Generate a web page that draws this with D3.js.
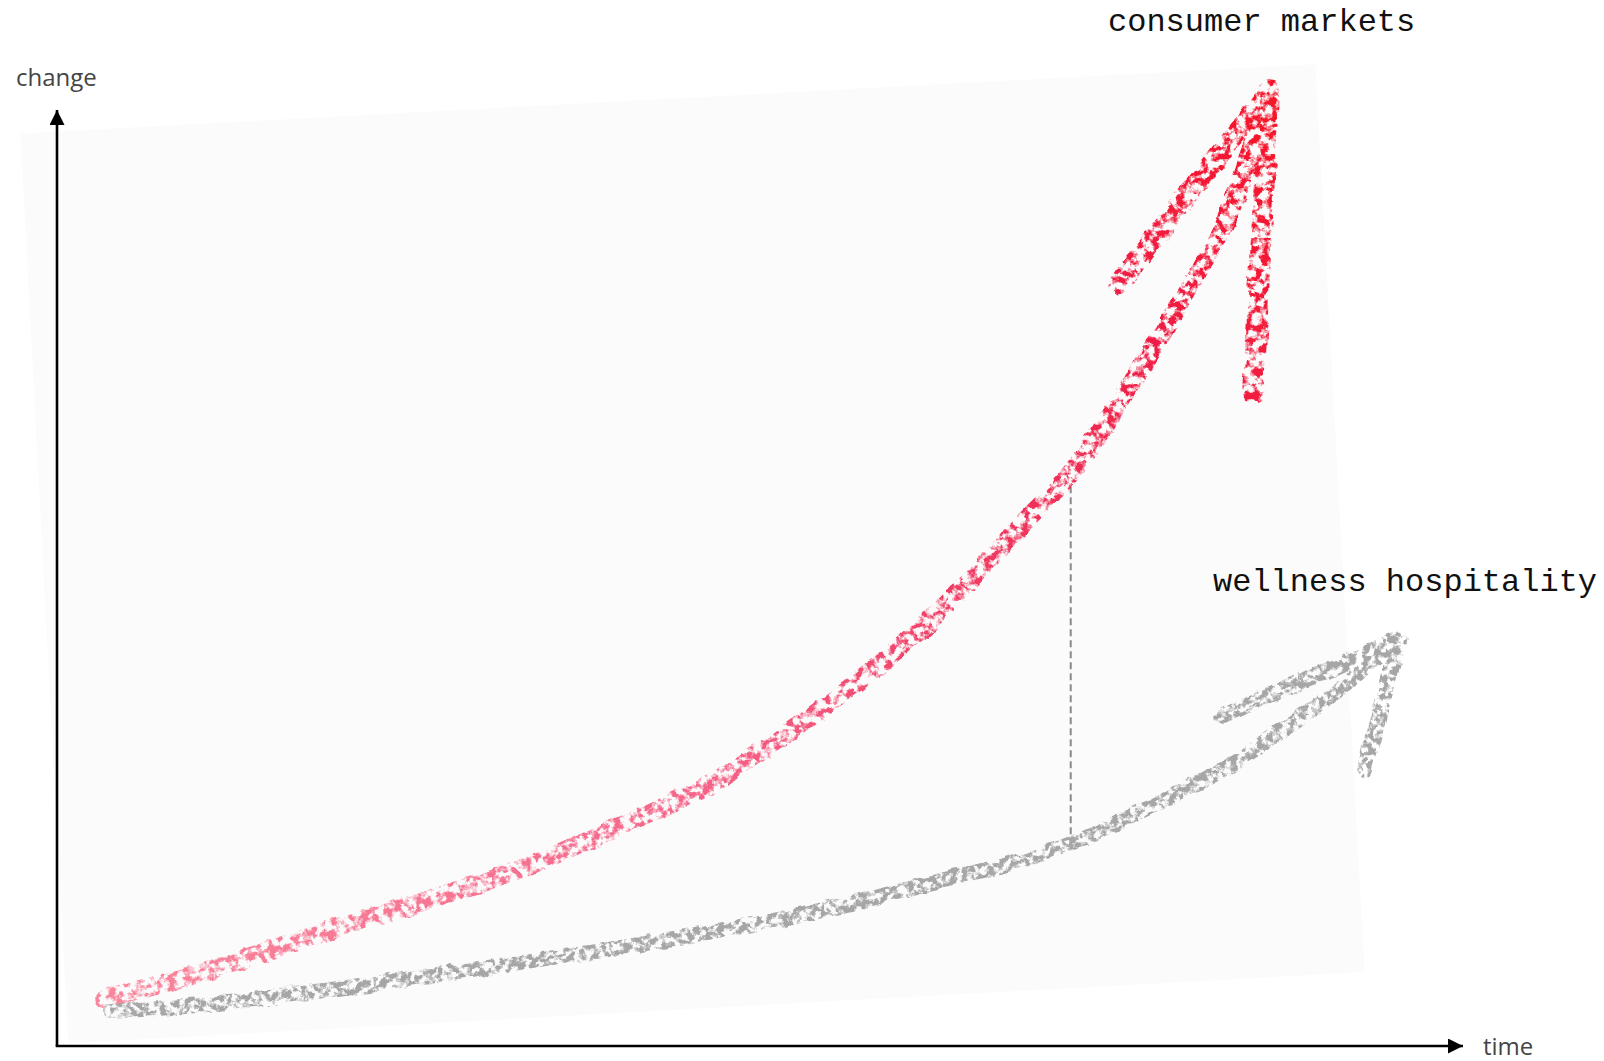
<!DOCTYPE html>
<html>
<head>
<meta charset="utf-8">
<script src="https://cdn.jsdelivr.net/npm/d3@7/dist/d3.min.js"></script>
<style>
  html, body { margin: 0; padding: 0; background: #ffffff; }
  svg { display: block; }
</style>
</head>
<body>
<svg id="chart" width="1604" height="1061"></svg>
<script>
// ---------- data (arbitrary units 0..100) ----------
const seriesNames = ["consumer markets", "wellness hospitality"];
const axisLabels = ["change", "time"];

// consumer markets (red crayon arrow)
const consumerX = [3.4, 10.5, 17.8, 25.0, 32.4, 39.6, 46.9, 54.2, 61.5, 68.8, 72.1, 76.0, 79.7, 83.3, 86.2];
const consumerY = [5.1, 7.9, 11.6, 15.0, 18.6, 23.2, 28.4, 35.8, 44.6, 56.0, 61.2, 69.7, 79.0, 88.8, 101.9];
const consumerHeadX = [75.5, 86.2, 85.1];   // left barb end, tip, right barb end
const consumerHeadY = [81.3, 102.1, 69.7];

// wellness hospitality (grey crayon arrow)
const wellnessX = [3.8, 10.5, 17.8, 25.0, 32.4, 39.6, 46.9, 54.2, 61.5, 68.8, 72.1, 76.0, 79.7, 83.3, 86.9, 90.6, 95.3];
const wellnessY = [3.7, 4.4, 5.7, 7.2, 8.8, 10.4, 12.3, 14.4, 17.2, 19.9, 21.6, 24.3, 27.0, 29.9, 33.5, 37.4, 43.4];
const wellnessHeadX = [82.9, 95.4, 93.0];
const wellnessHeadY = [35.3, 43.4, 29.5];

// gap marker between the two curves
const gapX = [72.1];
const gapTop = [59.8];
const gapBottom = [21.3];

// background sheet corners (paper photographed at a slight angle)
const sheetX = [-2.6, 89.5, 93.0, 0.8];
const sheetY = [97.5, 104.9, 7.9, 0.3];

// ---------- layout ----------
const svg = d3.select("#chart");
const origin = { x: 57, y: 1046 };
const x = d3.scaleLinear().domain([0, 100]).range([origin.x, 1463]);
const y = d3.scaleLinear().domain([0, 100]).range([origin.y, 110]);

const defs = svg.append("defs");

// crayon texture filter
const makeFilter = (id, freq, seed, a, b) => {
  const f = defs.append("filter").attr("id", id)
    .attr("x", "-5%").attr("y", "-5%").attr("width", "110%").attr("height", "110%");
  f.append("feTurbulence").attr("type", "fractalNoise").attr("baseFrequency", freq)
    .attr("numOctaves", 3).attr("seed", seed).attr("result", "noise");
  f.append("feColorMatrix").attr("in", "noise").attr("type", "matrix")
    .attr("values", `0 0 0 0 0  0 0 0 0 0  0 0 0 0 0  ${a} 0 0 0 ${b}`).attr("result", "mask");
  f.append("feComposite").attr("in", "SourceGraphic").attr("in2", "mask")
    .attr("operator", "in").attr("result", "tex");
  f.append("feTurbulence").attr("type", "fractalNoise").attr("baseFrequency", "0.05")
    .attr("numOctaves", 2).attr("seed", seed + 5).attr("result", "warp");
  f.append("feDisplacementMap").attr("in", "tex").attr("in2", "warp")
    .attr("scale", 8).attr("xChannelSelector", "R").attr("yChannelSelector", "G");
};
makeFilter("crayonRed", "0.13", 7, 5.5, -2.35);
makeFilter("crayonGrey", "0.16", 11, 5.5, -2.2);

// red gradient along the rising curve
const g = defs.append("linearGradient").attr("id", "redGrad")
  .attr("gradientUnits", "userSpaceOnUse")
  .attr("x1", x(3)).attr("y1", y(5)).attr("x2", x(86)).attr("y2", y(100));
[[0, "#f9869c"], [0.4, "#f5668a"], [0.65, "#f03a62"], [0.85, "#f01e45"], [1, "#f6142a"]].forEach(([o, c]) =>
  g.append("stop").attr("offset", o).attr("stop-color", c));

// background sheet
svg.append("polygon")
  .attr("points", sheetX.map((d, i) => [x(d), y(sheetY[i])].join(",")).join(" "))
  .attr("fill", "#fbfbfb");

// arrow markers for axes
defs.append("marker").attr("id", "axArrow").attr("viewBox", "0 0 10 10")
  .attr("refX", 10).attr("refY", 5).attr("markerUnits", "userSpaceOnUse")
  .attr("markerWidth", 17).attr("markerHeight", 15).attr("orient", "auto")
  .append("path").attr("d", "M0,0 L10,5 L0,10 Z").attr("fill", "#000");

// axes
svg.append("line")
  .attr("x1", x(0)).attr("y1", y(0)).attr("x2", x(0)).attr("y2", y(100))
  .attr("stroke", "#000").attr("stroke-width", 2.6).attr("marker-end", "url(#axArrow)");
svg.append("line")
  .attr("x1", x(0) - 1.3).attr("y1", y(0)).attr("x2", x(100)).attr("y2", y(0))
  .attr("stroke", "#000").attr("stroke-width", 2.6).attr("marker-end", "url(#axArrow)");

svg.append("text").text(axisLabels[0])
  .attr("x", 16).attr("y", 86)
  .attr("font-family", "'Open Sans', sans-serif").attr("font-size", 24).attr("fill", "#454545");
svg.append("text").text(axisLabels[1])
  .attr("x", x(100) + 20).attr("y", y(0) + 9)
  .attr("font-family", "'Open Sans', sans-serif").attr("font-size", 24).attr("fill", "#454545");

// curves
const line = d3.line().x(d => x(d[0])).y(d => y(d[1])).curve(d3.curveCatmullRom.alpha(0.5));
const straight = d3.line().x(d => x(d[0])).y(d => y(d[1]));

const consumerPts = consumerX.map((v, i) => [v, consumerY[i]]);
const wellnessPts = wellnessX.map((v, i) => [v, wellnessY[i]]);
const cHead = consumerHeadX.map((v, i) => [v, consumerHeadY[i]]);
const wHead = wellnessHeadX.map((v, i) => [v, wellnessHeadY[i]]);

// dashed gap line
svg.append("line")
  .attr("x1", x(gapX[0])).attr("x2", x(gapX[0]))
  .attr("y1", y(gapTop[0])).attr("y2", y(gapBottom[0]))
  .attr("stroke", "#8a8a8a").attr("stroke-width", 2).attr("stroke-dasharray", "7,4");

const drawCrayon = (pts, head, color, w, filt) => {
  const grp = svg.append("g").attr("filter", `url(#${filt})`);
  grp.append("path").attr("d", line(pts)).attr("fill", "none")
    .attr("stroke", color).attr("stroke-width", w)
    .attr("stroke-linecap", "round").attr("stroke-linejoin", "round");
  grp.append("path").attr("d", straight(head)).attr("fill", "none")
    .attr("stroke", color).attr("stroke-width", w * 1.1)
    .attr("stroke-linecap", "round").attr("stroke-linejoin", "round");
};

drawCrayon(wellnessPts, wHead, "#a6a6a6", 15, "crayonGrey");
drawCrayon(consumerPts, cHead, "url(#redGrad)", 19, "crayonRed");

// series labels
svg.append("text").text(seriesNames[0])
  .attr("x", 1108).attr("y", 31)
  .attr("font-family", "'Liberation Mono', 'Courier New', monospace")
  .attr("font-size", 32).attr("fill", "#111");
svg.append("text").text(seriesNames[1])
  .attr("x", 1213).attr("y", 591)
  .attr("font-family", "'Liberation Mono', 'Courier New', monospace")
  .attr("font-size", 32).attr("fill", "#111");
</script>
</body>
</html>
